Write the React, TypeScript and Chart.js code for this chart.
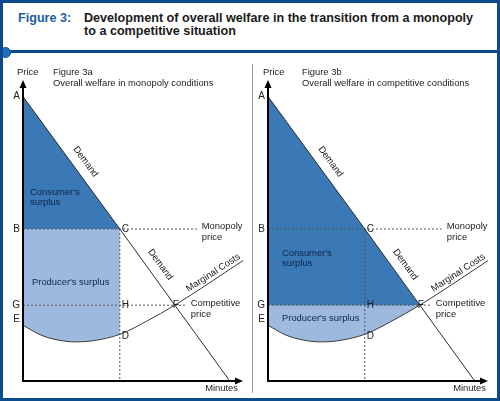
import { useEffect, useRef } from 'react';
import { Chart, registerables } from 'chart.js';

Chart.register(...registerables);

// Both axes run 0..100 (minutes / price)
const demandQty = [0, 44, 69, 94];
const demandPrice = [94.5, 50.5, 25.2, 0];
const mcQty = [0, 8, 16, 24, 32, 44, 56, 69, 100];
const mcPrice = [18.5, 15.3, 13.6, 13, 13.4, 15.5, 19.8, 25.2, 40];
const monopolyQty = 44;
const monopolyPrice = 50.5;
const competitiveQty = 69;
const competitivePrice = 25.2;

const FONT = '"Liberation Sans", Arial, Helvetica, sans-serif';
const FRAME_BLUE = '#0b4a8b';
const DARK_FILL = '#3b78b6';
const LIGHT_FILL = '#9dbade';
const SURPLUS_TEXT = '#0d2547';
const LABEL_SIZE = 9.4;

type Label = {
  text: string;
  x: number;
  y: number;
  dx?: number;
  dy?: number;
  align?: CanvasTextAlign;
  size?: number;
  color?: string;
};

type Rotated = { text: string; qty: number; xs: number[]; ys: number[]; off: number };

const pairs = (xs: number[], ys: number[]) => xs.map((x, i) => ({ x, y: ys[i] }));

const axesPlugin = {
  id: 'axesArrows',
  afterDatasetsDraw(chart: any) {
    const { ctx } = chart;
    const sx = chart.scales.x;
    const sy = chart.scales.y;
    const x0 = sx.getPixelForValue(0);
    const y0 = sy.getPixelForValue(0);
    const xEnd = sx.getPixelForValue(100);
    const yEnd = sy.getPixelForValue(100);
    ctx.save();
    ctx.strokeStyle = '#000';
    ctx.fillStyle = '#000';
    ctx.lineWidth = 2;
    ctx.beginPath();
    ctx.moveTo(x0, y0 + 1);
    ctx.lineTo(x0, yEnd + 6);
    ctx.moveTo(x0 - 1, y0);
    ctx.lineTo(xEnd - 6, y0);
    ctx.stroke();
    ctx.beginPath();
    ctx.moveTo(x0, yEnd);
    ctx.lineTo(x0 - 3.5, yEnd + 8);
    ctx.lineTo(x0 + 3.5, yEnd + 8);
    ctx.fill();
    ctx.beginPath();
    ctx.moveTo(xEnd, y0);
    ctx.lineTo(xEnd - 8, y0 - 3.5);
    ctx.lineTo(xEnd - 8, y0 + 3.5);
    ctx.fill();
    ctx.restore();
  },
};

function makeTextPlugin(labels: Label[], rotated: Rotated[]) {
  return {
    id: 'figureText',
    afterDraw(chart: any) {
      const { ctx } = chart;
      const sx = chart.scales.x;
      const sy = chart.scales.y;
      ctx.save();
      ctx.textBaseline = 'middle';
      labels.forEach((l) => {
        ctx.font = `${l.size ?? LABEL_SIZE}px ${FONT}`;
        ctx.fillStyle = l.color ?? '#222';
        ctx.textAlign = l.align ?? 'left';
        ctx.fillText(l.text, sx.getPixelForValue(l.x) + (l.dx ?? 0), sy.getPixelForValue(l.y) + (l.dy ?? 0));
      });
      rotated.forEach((r) => {
        let i = 0;
        while (i < r.xs.length - 2 && r.xs[i + 1] < r.qty) i++;
        const x1 = sx.getPixelForValue(r.xs[i]);
        const y1 = sy.getPixelForValue(r.ys[i]);
        const x2 = sx.getPixelForValue(r.xs[i + 1]);
        const y2 = sy.getPixelForValue(r.ys[i + 1]);
        const t = (r.qty - r.xs[i]) / (r.xs[i + 1] - r.xs[i]);
        const a = Math.atan2(y2 - y1, x2 - x1);
        const cx = x1 + (x2 - x1) * t + Math.sin(a) * r.off;
        const cy = y1 + (y2 - y1) * t - Math.cos(a) * r.off;
        ctx.save();
        ctx.translate(cx, cy);
        ctx.rotate(a);
        ctx.font = `${LABEL_SIZE}px ${FONT}`;
        ctx.fillStyle = '#222';
        ctx.textAlign = 'center';
        ctx.fillText(r.text, 0, 0);
        ctx.restore();
      });
      ctx.restore();
    },
  };
}

interface PanelProps {
  competitive: boolean;
  left: number;
  width: number;
  padLeft: number;
}

function Panel({ competitive, left, width, padLeft }: PanelProps) {
  const canvasRef = useRef<HTMLCanvasElement | null>(null);
  const chartRef = useRef<Chart | null>(null);

  useEffect(() => {
    if (!canvasRef.current) return;
    if (chartRef.current) {
      chartRef.current.destroy();
      chartRef.current = null;
    }

    const surplusPrice = competitive ? competitivePrice : monopolyPrice;
    const cutQty = competitive ? competitiveQty : monopolyQty;
    const demandPts = pairs(demandQty, demandPrice);
    const mcPts = pairs(mcQty, mcPrice);
    const dMono = mcPrice[mcQty.indexOf(monopolyQty)];

    const dashed = (data: any[]) => ({
      data,
      borderColor: '#555',
      borderWidth: 1,
      borderDash: [2, 2],
      pointRadius: 0,
      fill: false,
    });

    const labels: Label[] = [
      { text: 'Price', x: 0, y: 100, dx: competitive ? -5 : -6, dy: -8 },
      { text: competitive ? 'Figure 3b' : 'Figure 3a', x: 0, y: 100, dx: competitive ? 34 : 30, dy: -8 },
      {
        text: competitive ? 'Overall welfare in competitive conditions' : 'Overall welfare in monopoly conditions',
        x: 0, y: 100, dx: competitive ? 34 : 30, dy: 3,
      },
      { text: 'A', x: 0, y: demandPrice[0], dx: -3, align: 'right', size: 10 },
      { text: 'B', x: 0, y: monopolyPrice, dx: -3, align: 'right', size: 10 },
      { text: 'G', x: 0, y: competitivePrice, dx: -3, align: 'right', size: 10 },
      { text: 'E', x: 0, y: mcPrice[0], dx: -3, dy: -6, align: 'right', size: 10 },
      { text: 'C', x: monopolyQty, y: monopolyPrice, dx: 2, size: 10 },
      { text: 'H', x: monopolyQty, y: competitivePrice, dx: 2, size: 10 },
      { text: 'D', x: monopolyQty, y: dMono, dx: 2, dy: 2, size: 10 },
      { text: 'F', x: competitiveQty, y: competitivePrice, dx: -2, size: 10 },
      { text: 'Monopoly', x: 79, y: monopolyPrice, dx: 5, dy: -3 },
      { text: 'price', x: 79, y: monopolyPrice, dx: 5, dy: 8 },
      { text: 'Competitive', x: 74, y: competitivePrice, dx: 5, dy: -2 },
      { text: 'price', x: 74, y: competitivePrice, dx: 5, dy: 9 },
      { text: 'Minutes', x: 100, y: 0, dx: competitive ? -2 : -5, dy: 7, align: 'right' },
    ];
    if (competitive) {
      labels.push(
        { text: "Consumer's", x: 0, y: competitivePrice, dx: 14, dy: -52, color: SURPLUS_TEXT },
        { text: 'surplus', x: 0, y: competitivePrice, dx: 14, dy: -42, color: SURPLUS_TEXT },
        { text: "Producer's surplus", x: 0, y: competitivePrice, dx: 14, dy: 13, color: SURPLUS_TEXT },
      );
    } else {
      labels.push(
        { text: "Consumer's", x: 0, y: monopolyPrice, dx: 7, dy: -37, color: SURPLUS_TEXT },
        { text: 'surplus', x: 0, y: monopolyPrice, dx: 7, dy: -27, color: SURPLUS_TEXT },
        { text: "Producer's surplus", x: 0, y: competitivePrice, dx: 9, dy: -23, color: SURPLUS_TEXT },
      );
    }

    const rotated: Rotated[] = [
      { text: 'Demand', qty: 24, xs: demandQty, ys: demandPrice, off: 12 },
      { text: 'Demand', qty: 58, xs: demandQty, ys: demandPrice, off: 12 },
      { text: 'Marginal Costs', qty: 88, xs: mcQty, ys: mcPrice, off: 6 },
    ];

    chartRef.current = new Chart(canvasRef.current, {
      type: 'scatter',
      data: {
        datasets: [
          { data: demandPts, borderColor: '#2b2b2b', borderWidth: 1, pointRadius: 0, fill: false },
          {
            data: mcPts, borderColor: '#3a3a3a', borderWidth: 1, pointRadius: 0, fill: false,
            cubicInterpolationMode: 'monotone',
          },
          dashed([{ x: 0, y: monopolyPrice }, { x: 79, y: monopolyPrice }]),
          dashed([{ x: 0, y: competitivePrice }, { x: 74, y: competitivePrice }]),
          dashed([{ x: monopolyQty, y: monopolyPrice }, { x: monopolyQty, y: 0 }]),
          {
            data: demandPts.filter((p) => p.x <= cutQty),
            borderWidth: 0, borderColor: 'transparent', backgroundColor: DARK_FILL,
            pointRadius: 0, fill: { value: surplusPrice },
          },
          {
            data: mcPts.filter((p) => p.x <= cutQty),
            borderWidth: 0, borderColor: 'transparent', backgroundColor: LIGHT_FILL,
            pointRadius: 0, fill: { value: surplusPrice }, cubicInterpolationMode: 'monotone',
          },
        ] as any,
      },
      options: {
        animation: false,
        responsive: false,
        showLine: true,
        events: [],
        layout: { padding: { left: padLeft, right: 9, top: 25, bottom: 15 } },
        scales: {
          x: { type: 'linear', min: 0, max: 100, display: false },
          y: { type: 'linear', min: 0, max: 100, display: false },
        },
        plugins: { legend: { display: false }, tooltip: { enabled: false } },
      } as any,
      plugins: [axesPlugin, makeTextPlugin(labels, rotated)],
    });

    return () => {
      if (chartRef.current) {
        chartRef.current.destroy();
        chartRef.current = null;
      }
    };
  }, [competitive, padLeft]);

  return (
    <canvas
      ref={canvasRef}
      width={width}
      height={341}
      style={{ position: 'absolute', left, top: 55, width, height: 341 }}
    />
  );
}

export default function App() {
  return (
    <div
      style={{
        position: 'absolute', left: 0, top: 0, width: 500, height: 401,
        background: '#fff', fontFamily: FONT, overflow: 'hidden',
      }}
    >
      <div
        style={{
          position: 'absolute', left: 18, top: 12, fontSize: 12.6, fontWeight: 'bold',
          lineHeight: '12.5px', color: '#1d5fa2', whiteSpace: 'nowrap',
        }}
      >
        Figure 3:
      </div>
      <div
        style={{
          position: 'absolute', left: 84, top: 12, fontSize: 12.6, fontWeight: 'bold',
          lineHeight: '12.5px', color: '#1a1a1a', whiteSpace: 'nowrap',
        }}
      >
        Development of overall welfare in the transition from a monopoly
        <br />
        to a competitive situation
      </div>
      <div style={{ position: 'absolute', left: 3, top: 50, width: 494, height: 3, background: FRAME_BLUE }} />
      <div
        style={{
          position: 'absolute', left: 0, top: 47, width: 9, height: 9, borderRadius: '50%',
          background: '#1f6fbf', border: `1px solid ${FRAME_BLUE}`,
        }}
      />
      <div style={{ position: 'absolute', left: 252, top: 64, width: 1, height: 329, background: '#9a9a9a' }} />
      <Panel competitive={false} left={3} width={249} padLeft={20} />
      <Panel competitive={true} left={253} width={244} padLeft={15} />
      <div
        style={{
          position: 'absolute', left: 0, top: 0, width: 500, height: 401, boxSizing: 'border-box',
          border: `3px solid ${FRAME_BLUE}`, pointerEvents: 'none',
        }}
      />
    </div>
  );
}
